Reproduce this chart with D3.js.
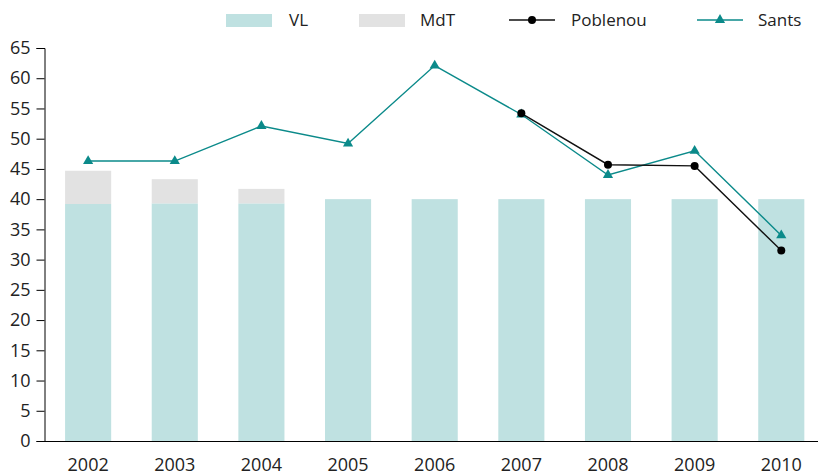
<!DOCTYPE html>
<html>
<head>
<meta charset="utf-8">
<script src="https://cdn.jsdelivr.net/npm/d3@7"></script>
<style>
  body { margin: 0; background: #fff; }
  svg { display: block; overflow: hidden; }
  text { font-family: "Open Sans", sans-serif; fill: #222; }
</style>
</head>
<body>
<div id="chart"></div>
<script>
const years = ["2002", "2003", "2004", "2005", "2006", "2007", "2008", "2009", "2010"];
const vl = [39.2, 39.3, 39.3, 40, 40, 40, 40, 40, 40];
const mdt = [5.5, 4.0, 2.4, 0, 0, 0, 0, 0, 0];
const sants = [46.3, 46.3, 52.1, 49.2, 62.1, 54.0, 44.0, 48.0, 34.0];
const poblenou = [null, null, null, null, null, 54.2, 45.7, 45.5, 31.5];
const yTicks = [0, 5, 10, 15, 20, 25, 30, 35, 40, 45, 50, 55, 60, 65];

const main = function() {
  const width = 818, height = 475;
  const svg = d3.select("#chart").append("svg")
    .attr("width", width)
    .attr("height", height);

  const x = d3.scaleBand()
    .domain(years)
    .range([44.8, 824.6])
    .paddingInner(0.468)
    .paddingOuter(0.234);
  const y = d3.scaleLinear().domain([0, 65]).range([441, 48]);

  const teal = "#0b8a8a";

  // stacked bars
  svg.append("g").selectAll("rect")
    .data(years)
    .enter().append("rect")
    .attr("x", d => x(d))
    .attr("width", x.bandwidth())
    .attr("y", (d, i) => y(vl[i]))
    .attr("height", (d, i) => y(0) - y(vl[i]))
    .style("fill", "#bfe1e1");

  svg.append("g").selectAll("rect")
    .data(years.filter((d, i) => mdt[i] > 0))
    .enter().append("rect")
    .attr("x", d => x(d))
    .attr("width", x.bandwidth())
    .attr("y", d => { const i = years.indexOf(d); return y(vl[i] + mdt[i]); })
    .attr("height", d => { const i = years.indexOf(d); return y(vl[i]) - y(vl[i] + mdt[i]); })
    .style("fill", "#e2e2e2");

  // y axis
  const yAxis = svg.append("g")
    .attr("transform", "translate(44.5,0)")
    .call(d3.axisLeft(y).tickValues(yTicks).tickSize(8).tickPadding(6));
  yAxis.select(".domain").attr("stroke", "#000");
  yAxis.selectAll(".tick line").attr("stroke", "#000");
  yAxis.selectAll("text").style("font-size", "18px").attr("fill", "#222");

  // x axis
  const xAxis = svg.append("g")
    .attr("transform", "translate(0,441.5)")
    .call(d3.axisBottom(x).tickSize(0).tickPadding(17));
  xAxis.select(".domain").attr("stroke", "#000").attr("d", "M44,0H824");
  xAxis.selectAll("text").style("font-size", "18px").attr("fill", "#222");

  const line = d3.line()
    .defined(d => d.v !== null)
    .x(d => x(d.year) + x.bandwidth() / 2)
    .y(d => y(d.v));

  const santsData = years.map((yr, i) => ({ year: yr, v: sants[i] }));
  const pobData = years.map((yr, i) => ({ year: yr, v: poblenou[i] }));

  const tri = d3.symbol().type(d3.symbolTriangle).size(45);

  svg.append("path")
    .datum(santsData)
    .attr("d", line)
    .style("fill", "none")
    .style("stroke", teal)
    .style("stroke-width", 1.4);
  svg.append("g").selectAll("path")
    .data(santsData)
    .enter().append("path")
    .attr("d", tri)
    .attr("transform", d => "translate(" + (x(d.year) + x.bandwidth() / 2) + "," + y(d.v) + ")")
    .style("fill", teal);

  svg.append("path")
    .datum(pobData)
    .attr("d", line)
    .style("fill", "none")
    .style("stroke", "#111")
    .style("stroke-width", 1.4);
  svg.append("g").selectAll("circle")
    .data(pobData.filter(d => d.v !== null))
    .enter().append("circle")
    .attr("cx", d => x(d.year) + x.bandwidth() / 2)
    .attr("cy", d => y(d.v))
    .attr("r", 4)
    .style("fill", "#000");

  // legend
  const legend = svg.append("g");
  const ly = 20;
  legend.append("rect").attr("x", 226).attr("y", ly - 6).attr("width", 46).attr("height", 13).style("fill", "#bfe1e1");
  legend.append("text").attr("x", 289).attr("y", ly + 6).style("font-size", "17px").text("VL");
  legend.append("rect").attr("x", 359).attr("y", ly - 6).attr("width", 46).attr("height", 13).style("fill", "#e2e2e2");
  legend.append("text").attr("x", 420).attr("y", ly + 6).style("font-size", "17px").text("MdT");
  legend.append("line").attr("x1", 509).attr("x2", 555).attr("y1", ly).attr("y2", ly).style("stroke", "#111").style("stroke-width", 1.4);
  legend.append("circle").attr("cx", 532).attr("cy", ly).attr("r", 4).style("fill", "#000");
  legend.append("text").attr("x", 571).attr("y", ly + 6).style("font-size", "17px").text("Poblenou");
  legend.append("line").attr("x1", 697).attr("x2", 743).attr("y1", ly).attr("y2", ly).style("stroke", teal).style("stroke-width", 1.4);
  legend.append("path").attr("d", tri).attr("transform", "translate(720," + ly + ")").style("fill", teal);
  legend.append("text").attr("x", 758).attr("y", ly + 6).style("font-size", "17px").text("Sants");
};

window.onload = main;
</script>
</body>
</html>
